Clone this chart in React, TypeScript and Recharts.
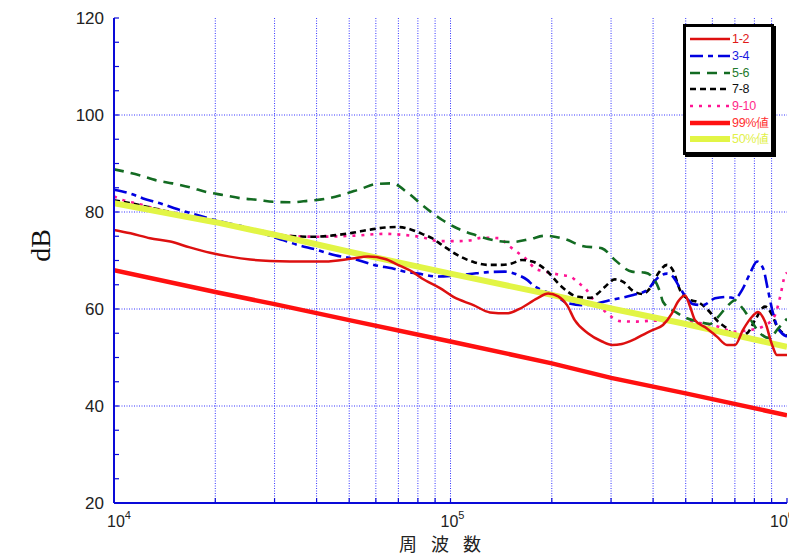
import { LineChart, Line, XAxis, YAxis, CartesianGrid, Legend, Label } from "recharts";

// frequency in Hz, level in dB
const f12 = [10000, 11200, 12800, 14700, 16800, 19300, 22100, 25400, 29100, 33300, 42400, 51000, 56900, 63900, 69800, 76900, 82300, 93100, 102000, 117000, 131000, 147000, 161000, 181000, 195000, 209000, 222000, 234000, 256000, 282000, 302000, 323000, 353000, 383000, 400000, 428000, 455000, 474000, 498000, 515000, 533000, 578000, 619000, 663000, 701000, 740000, 787000, 820000, 860000, 903000, 934000, 1000000];
const db12 = [76.3, 75.6, 74.6, 73.9, 72.7, 71.6, 70.8, 70.2, 69.9, 69.8, 69.8, 70.4, 70.8, 70.3, 69.1, 67.7, 66.3, 64.3, 62.5, 60.8, 59.3, 59.1, 60.1, 62.2, 63.2, 62.6, 60.8, 57.7, 55.0, 53.3, 52.6, 52.8, 53.8, 55.1, 55.7, 56.7, 59.1, 61.5, 62.8, 60.5, 57.7, 56.0, 54.3, 52.6, 52.6, 55.7, 58.4, 59.4, 57.4, 52.6, 50.5, 50.5];

const f34 = [10000, 11400, 12200, 13700, 15400, 17200, 19800, 21800, 24800, 27700, 31800, 35200, 39600, 45400, 51000, 60900, 67000, 73300, 80100, 91800, 103000, 114000, 129000, 145000, 159000, 169000, 176000, 188000, 204000, 223000, 246000, 274000, 302000, 349000, 384000, 411000, 440000, 458000, 481000, 504000, 526000, 563000, 611000, 663000, 701000, 735000, 776000, 815000, 849000, 878000, 909000, 941000, 1000000];
const db34 = [84.6, 83.6, 82.8, 81.8, 80.6, 79.6, 78.4, 77.7, 76.8, 75.6, 74.2, 73.2, 72.3, 71.1, 70.4, 68.9, 68.4, 67.7, 67.3, 66.7, 66.9, 67.2, 67.6, 67.7, 67.0, 66.0, 64.9, 63.8, 62.9, 61.2, 60.8, 61.2, 61.9, 62.9, 63.9, 66.3, 67.3, 66.7, 64.3, 62.2, 61.0, 60.8, 62.2, 62.5, 62.2, 63.9, 67.3, 69.8, 68.4, 63.9, 59.1, 56.0, 54.3];

const f56 = [10000, 11900, 13400, 14900, 16800, 18900, 21100, 24000, 26800, 29700, 33300, 37700, 42400, 47900, 53800, 60500, 67000, 74800, 82900, 94300, 105000, 118000, 136000, 152000, 172000, 191000, 219000, 246000, 282000, 308000, 346000, 378000, 397000, 419000, 428000, 471000, 504000, 544000, 590000, 619000, 663000, 701000, 735000, 776000, 831000, 890000, 934000, 1000000];
const db56 = [88.8, 87.6, 86.5, 85.9, 85.1, 84.1, 83.5, 82.8, 82.5, 82.1, 82.0, 82.3, 82.7, 83.6, 84.7, 85.8, 85.9, 83.9, 81.3, 78.4, 76.6, 75.3, 74.1, 73.8, 74.4, 75.1, 74.4, 73.0, 72.5, 70.1, 67.7, 67.5, 66.7, 63.6, 61.5, 59.2, 58.1, 57.4, 56.9, 58.1, 60.5, 61.8, 60.3, 58.0, 55.0, 54.0, 55.7, 58.0];

const f78 = [10000, 11200, 16800, 25400, 32200, 38800, 51000, 56900, 63900, 69800, 76900, 82300, 88100, 94300, 105000, 118000, 129000, 142000, 152000, 163000, 175000, 191000, 214000, 239000, 260000, 274000, 288000, 308000, 326000, 346000, 371000, 392000, 414000, 440000, 458000, 481000, 504000, 551000, 582000, 624000, 663000, 701000, 761000, 803000, 860000, 903000, 934000, 973000, 1000000];
const db78 = [82.4, 81.8, 79.0, 76.6, 75.1, 74.9, 75.7, 76.3, 76.8, 76.9, 76.3, 75.5, 74.6, 73.2, 71.1, 69.6, 69.1, 69.1, 69.4, 70.1, 69.8, 68.2, 64.6, 62.5, 62.3, 63.2, 64.6, 66.1, 65.6, 63.9, 63.1, 64.3, 67.3, 69.1, 68.0, 63.9, 62.2, 61.2, 59.8, 57.4, 56.0, 54.3, 55.0, 57.7, 60.5, 58.8, 56.4, 55.0, 54.5];

const f910 = [10000, 10600, 11900, 13500, 15700, 22100, 29500, 32900, 40400, 51000, 63900, 71800, 82300, 91800, 105000, 116000, 124000, 140000, 148000, 158000, 169000, 178000, 191000, 214000, 227000, 239000, 254000, 265000, 282000, 302000, 319000, 358000, 400000, 458000, 520000, 563000, 603000, 645000, 691000, 750000, 849000, 922000, 954000, 987000, 1000000];
const db910 = [83.2, 82.5, 81.6, 80.6, 79.6, 77.5, 75.7, 75.1, 74.9, 75.1, 75.5, 75.3, 74.8, 74.0, 74.0, 74.2, 74.7, 74.6, 73.2, 71.7, 70.1, 68.4, 67.7, 67.0, 66.7, 65.5, 63.9, 62.0, 60.1, 58.3, 57.5, 57.4, 57.6, 57.2, 57.3, 57.0, 56.7, 56.0, 55.3, 55.5, 56.4, 58.8, 62.5, 67.0, 67.5];

const f99 = [10000, 20000, 30000, 50000, 100000, 200000, 300000, 500000, 1000000];
const db99 = [68.0, 63.5, 61.0, 57.7, 53.3, 48.8, 45.8, 42.6, 38.1];

const f50 = [10000, 20000, 30000, 50000, 100000, 200000, 300000, 500000, 1000000];
const db50 = [81.8, 77.9, 75.3, 71.8, 67.3, 62.9, 60.1, 56.9, 52.2];

const xTicks = [10000, 20000, 30000, 40000, 50000, 60000, 70000, 80000, 90000, 100000, 200000, 300000, 400000, 500000, 600000, 700000, 800000, 900000, 1000000];
const xGrid = [20000, 30000, 40000, 50000, 60000, 70000, 80000, 90000, 100000, 200000, 300000, 400000, 500000, 600000, 700000, 800000, 900000];
const yTicks = [20, 25, 30, 35, 40, 45, 50, 55, 60, 65, 70, 75, 80, 85, 90, 95, 100, 105, 110, 115, 120];
const yGrid = [40, 60, 80, 100];
const yLabels = [20, 40, 60, 80, 100, 120];
const decades = [10000, 100000, 1000000];

const pts = (f: number[], v: number[]) => f.map((x, i) => ({ f: x, db: v[i] }));

const series = [
  { name: "1-2", data: pts(f12, db12), color: "#dd1010", text: "#e01818", width: 2.5, dash: undefined, type: "monotone" },
  { name: "3-4", data: pts(f34, db34), color: "#0000e0", text: "#1a1ae0", width: 2.6, dash: "13 5 5 5", type: "monotone" },
  { name: "5-6", data: pts(f56, db56), color: "#136b22", text: "#1f7a2e", width: 2.6, dash: "10 7", type: "monotone" },
  { name: "7-8", data: pts(f78, db78), color: "#000000", text: "#111111", width: 2.6, dash: "6 4", type: "monotone" },
  { name: "9-10", data: pts(f910, db910), color: "#ff1493", text: "#ff2a8a", width: 2.6, dash: "3 6", type: "monotone" },
  { name: "99%値", data: pts(f99, db99), color: "#ff1010", text: "#ff3030", width: 4.5, dash: undefined, type: "linear" },
  { name: "50%値", data: pts(f50, db50), color: "#e2f545", text: "#e2f04a", width: 6, dash: undefined, type: "linear" },
];

// drawing order: thick references under the measured curves, yellow above most dashed lines
const drawOrder = ["99%値", "9-10", "7-8", "3-4", "5-6", "50%値", "1-2"];

const frame = "#0a0ad8";
const tickFont = "'Liberation Sans', Arial, sans-serif";

// start offset of each decade label relative to its tick
const decadeShift: Record<number, number> = { 10000: -7, 100000: -10, 1000000: -17 };

function BottomTick(props: any) {
  const { x, y, payload } = props;
  const v = payload.value;
  const isDecade = decades.includes(v);
  return (
    <g>
      <line x1={x} y1={y} x2={x} y2={y - 5} stroke={frame} strokeWidth={1.2} />
      {isDecade && (
        <text x={x + decadeShift[v]} y={y + 24} fontSize={16} fill="#222" fontFamily={tickFont}>
          10
          <tspan dy={-8} fontSize={11}>
            {Math.round(Math.log10(v))}
          </tspan>
        </text>
      )}
    </g>
  );
}

function TopTick(props: any) {
  const { x, y } = props;
  return <line x1={x} y1={y} x2={x} y2={y + 4} stroke={frame} strokeWidth={1.2} />;
}

function LeftTick(props: any) {
  const { x, y, payload } = props;
  return (
    <g>
      <line x1={x} y1={y} x2={x + 5} y2={y} stroke={frame} strokeWidth={1.2} />
      {yLabels.includes(payload.value) && (
        <text x={x - 10} y={y + 6} textAnchor="end" fontSize={17} fill="#222" fontFamily={tickFont}>
          {payload.value}
        </text>
      )}
    </g>
  );
}

function RightTick(props: any) {
  const { x, y } = props;
  return <line x1={x} y1={y} x2={x - 5} y2={y} stroke={frame} strokeWidth={1.2} />;
}

function LegendBox() {
  return (
    <div
      style={{
        boxSizing: "border-box",
        width: 91,
        height: 131,
        border: "3px solid #000",
        boxShadow: "2px 2px 0 #000",
        background: "#fff",
        paddingTop: 4,
      }}
    >
      {series.map((s) => (
        <div key={s.name} style={{ display: "flex", alignItems: "center", height: 16.7, whiteSpace: "nowrap" }}>
          <svg width={43} height={10} style={{ marginLeft: 3, flex: "none" }}>
            <line x1={1} y1={5} x2={41} y2={5} stroke={s.color} strokeWidth={s.width} strokeDasharray={s.dash} />
          </svg>
          <span style={{ color: s.text, fontSize: 12.5, fontFamily: tickFont, lineHeight: "16px", letterSpacing: -0.3 }}>
            {s.name}
          </span>
        </div>
      ))}
    </div>
  );
}

export default function App() {
  const ordered = drawOrder.map((n) => series.find((s) => s.name === n)!);
  return (
    <div style={{ position: "relative", width: 789, height: 548 }}>
      <LineChart width={789} height={548} margin={{ top: 10, right: 10, bottom: 0, left: 0 }}>
        <CartesianGrid
          xAxisId="b"
          yAxisId="l"
          horizontalValues={yGrid}
          verticalValues={xGrid}
          stroke="#3535ff"
          strokeDasharray="1 1.5"
          strokeWidth={1}
        />
        <XAxis
          xAxisId="b"
          dataKey="f"
          type="number"
          scale="log"
          domain={[10000, 1000000]}
          allowDataOverflow
          ticks={xTicks}
          interval={0}
          height={53}
          tickSize={0}
          tickMargin={0}
          tickLine={false}
          axisLine={{ stroke: frame, strokeWidth: 2 }}
          tick={(p: any) => <BottomTick {...p} />}
        >
          <Label
            content={(p: any) => {
              const vb = p.viewBox;
              return (
                <text
                  x={vb.x + vb.width / 2 - 8}
                  y={vb.y + vb.height - 5}
                  textAnchor="middle"
                  fontSize={18}
                  fill="#222"
                  letterSpacing={5}
                  fontFamily="'Noto Sans CJK JP', sans-serif"
                >
                  周 波 数
                </text>
              );
            }}
          />
        </XAxis>
        <XAxis
          xAxisId="t"
          orientation="top"
          dataKey="f"
          type="number"
          scale="log"
          domain={[10000, 1000000]}
          allowDataOverflow
          ticks={xTicks}
          interval={0}
          height={0}
          tickSize={0}
          tickMargin={0}
          tickLine={false}
          axisLine={{ stroke: frame, strokeWidth: 2 }}
          tick={(p: any) => <TopTick {...p} />}
        />
        <YAxis
          yAxisId="l"
          type="number"
          domain={[20, 120]}
          allowDataOverflow
          ticks={yTicks}
          interval={0}
          width={106}
          tickSize={0}
          tickMargin={0}
          tickLine={false}
          axisLine={{ stroke: frame, strokeWidth: 2 }}
          tick={(p: any) => <LeftTick {...p} />}
        >
          <Label
            content={(p: any) => {
              const vb = p.viewBox;
              const cx = 32;
              const cy = vb.y + vb.height / 2 - 15;
              return (
                <text
                  x={cx}
                  y={cy}
                  transform={`rotate(-90 ${cx} ${cy})`}
                  textAnchor="middle"
                  dominantBaseline="central"
                  fontSize={28}
                  fill="#111"
                  fontFamily="'Liberation Serif', 'Times New Roman', serif"
                >
                  dB
                </text>
              );
            }}
          />
        </YAxis>
        <YAxis
          yAxisId="r"
          orientation="right"
          type="number"
          domain={[20, 120]}
          allowDataOverflow
          ticks={yTicks}
          interval={0}
          width={0}
          tickSize={0}
          tickMargin={0}
          tickLine={false}
          axisLine={{ stroke: frame, strokeWidth: 2 }}
          tick={(p: any) => <RightTick {...p} />}
        />
        {ordered.map((s) => (
          <Line
            key={s.name}
            xAxisId="b"
            yAxisId="l"
            data={s.data}
            dataKey="db"
            name={s.name}
            type={s.type as any}
            stroke={s.color}
            strokeWidth={s.width}
            strokeDasharray={s.dash}
            dot={false}
            activeDot={false}
            isAnimationActive={false}
          />
        ))}
        <Legend
          layout="vertical"
          align="center"
          verticalAlign="middle"
          wrapperStyle={{ left: 675, top: 16, width: 93, height: 133 }}
          content={() => <LegendBox />}
        />
      </LineChart>
    </div>
  );
}
